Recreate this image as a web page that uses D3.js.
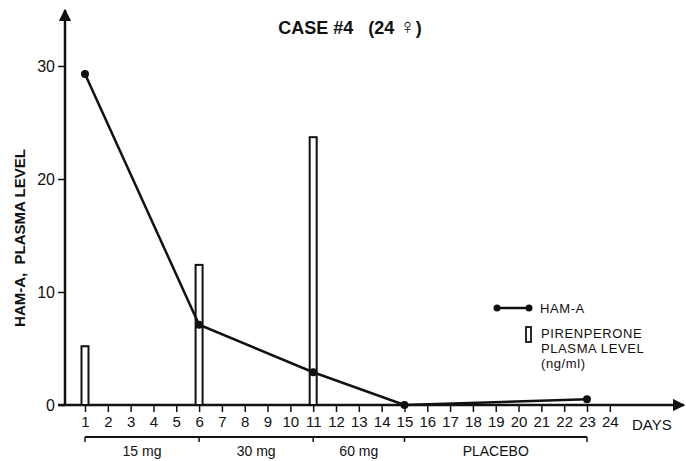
<!DOCTYPE html>
<html>
<head>
<meta charset="utf-8">
<script src="https://cdn.jsdelivr.net/npm/d3@7"></script>
<style>
  body { margin: 0; background: #fff; }
  text { font-family: "Liberation Sans", Arial, sans-serif; fill: #111; }
</style>
</head>
<body>
<div id="chart"></div>
<script>
(function(){
    // HAM-A scores by day
    const hamDays = [1, 6, 11, 15, 23];
    const hamValues = [29.3, 7.1, 2.9, 0, 0.5];

    // pirenperone plasma level (ng/ml) by day
    const plasmaDays = [1, 6, 11];
    const plasmaValues = [5.2, 12.4, 23.7];

    const dayTicks = d3.range(1, 25);
    const yTicks = [0, 10, 20, 30];

    // dose periods: [start day, end day, label]
    const doseStarts = [1, 6, 11, 15];
    const doseEnds = [6, 11, 15, 23];
    const doseLabels = ["15 mg", "30 mg", "60 mg", "PLACEBO"];

    const width = 686, height = 461;

    const svg = d3.select("#chart").append("svg")
        .attr("width", width)
        .attr("height", height);

    const x = d3.scaleLinear().domain([1, 23]).range([85, 587]);
    const y = d3.scaleLinear().domain([0, 30]).range([405, 66]);

    // title
    const title = svg.append("text")
        .attr("x", 350).attr("y", 34)
        .attr("text-anchor", "middle")
        .style("font-size", "18px")
        .style("font-weight", "bold")
        .attr("xml:space", "preserve");
    title.append("tspan").text("CASE #4   (24 ");
    title.append("tspan").style("font-size", "22px").text("\u2640");
    title.append("tspan").text(")");

    // y axis line with arrow
    svg.append("defs").append("marker")
        .attr("id", "arrow")
        .attr("viewBox", "0 0 10 10")
        .attr("refX", 9).attr("refY", 5)
        .attr("markerWidth", 5).attr("markerHeight", 5)
        .attr("orient", "auto")
        .append("path").attr("d", "M0,0L10,5L0,10Z").attr("fill", "#111");

    svg.append("line")
        .attr("x1", 65).attr("y1", y(0) + 1)
        .attr("x2", 65).attr("y2", 10)
        .attr("stroke", "#111").attr("stroke-width", 2.5)
        .attr("marker-end", "url(#arrow)");

    svg.append("line")
        .attr("x1", 58).attr("y1", y(0))
        .attr("x2", 684).attr("y2", y(0))
        .attr("stroke", "#111").attr("stroke-width", 2.5)
        .attr("marker-end", "url(#arrow)");

    // y axis ticks
    const yAxis = d3.axisLeft(y).tickValues(yTicks).tickSize(7).tickPadding(3);
    const gy = svg.append("g").attr("transform", "translate(65,0)").call(yAxis);
    gy.select(".domain").remove();
    gy.selectAll("line").attr("stroke", "#111").attr("stroke-width", 1.5);
    gy.selectAll("text").style("font-size", "16px").attr("font-family", null);

    // x axis ticks, below the axis line
    const xAxis = d3.axisBottom(x).tickValues(dayTicks).tickSize(6).tickPadding(4);
    const gx = svg.append("g").attr("transform", "translate(0," + (y(0) + 1) + ")").call(xAxis);
    gx.select(".domain").remove();
    gx.selectAll("line").attr("stroke", "#111").attr("stroke-width", 1.5);
    gx.selectAll("text").style("font-size", "15px").attr("font-family", null);

    svg.append("text")
        .attr("x", 632).attr("y", 430)
        .style("font-size", "15px")
        .text("DAYS");

    // y axis label
    svg.append("text")
        .attr("transform", "translate(25,238) rotate(-90)")
        .attr("text-anchor", "middle")
        .attr("xml:space", "preserve")
        .style("font-size", "15px")
        .style("font-weight", "bold")
        .text("HAM-A,  PLASMA LEVEL");

    // dose bracket
    const bracketY = 437;
    svg.append("line")
        .attr("x1", x(1)).attr("x2", x(23))
        .attr("y1", bracketY).attr("y2", bracketY)
        .attr("stroke", "#111").attr("stroke-width", 2);
    const bracketTicks = [1, 6, 11, 15, 23];
    svg.selectAll(".btick").data(bracketTicks).enter().append("line")
        .attr("class", "btick")
        .attr("x1", d => x(d)).attr("x2", d => x(d))
        .attr("y1", bracketY).attr("y2", bracketY + 5)
        .attr("stroke", "#111").attr("stroke-width", 1.5);
    svg.selectAll(".dose").data(doseLabels).enter().append("text")
        .attr("class", "dose")
        .attr("x", (d, i) => (x(doseStarts[i]) + x(doseEnds[i])) / 2)
        .attr("y", 456)
        .attr("text-anchor", "middle")
        .style("font-size", "14px")
        .text(d => d);

    // plasma bars
    const barW = 7;
    svg.selectAll(".bar").data(plasmaValues).enter().append("rect")
        .attr("class", "bar")
        .attr("x", (d, i) => x(plasmaDays[i]) - barW / 2)
        .attr("y", d => y(d))
        .attr("width", barW)
        .attr("height", d => y(0) - y(d))
        .attr("fill", "#fff")
        .attr("stroke", "#111").attr("stroke-width", 2);

    // HAM-A line
    const line = d3.line()
        .x((d, i) => x(hamDays[i]))
        .y(d => y(d));
    svg.append("path")
        .datum(hamValues)
        .attr("d", line)
        .attr("fill", "none")
        .attr("stroke", "#111").attr("stroke-width", 2.5);
    svg.selectAll(".dot").data(hamValues).enter().append("circle")
        .attr("class", "dot")
        .attr("cx", (d, i) => x(hamDays[i]))
        .attr("cy", d => y(d))
        .attr("r", 4)
        .attr("fill", "#111");

    // legend
    const lg = svg.append("g").style("font-size", "13px").style("letter-spacing", "0.6px");
    lg.append("line")
        .attr("x1", 497).attr("x2", 529).attr("y1", 308).attr("y2", 308)
        .attr("stroke", "#111").attr("stroke-width", 2.5);
    lg.selectAll("circle").data([497, 529]).enter().append("circle")
        .attr("cx", d => d).attr("cy", 308).attr("r", 3.5).attr("fill", "#111");
    lg.append("text").attr("x", 540).attr("y", 313).text("HAM-A");
    lg.append("rect")
        .attr("x", 526).attr("y", 327).attr("width", 5).attr("height", 15)
        .attr("fill", "#fff").attr("stroke", "#111").attr("stroke-width", 1.8);
    lg.append("text").attr("x", 541).attr("y", 338).text("PIRENPERONE");
    lg.append("text").attr("x", 541).attr("y", 353).text("PLASMA LEVEL");
    lg.append("text").attr("x", 541).attr("y", 368).text("(ng/ml)");
})();
</script>
</body>
</html>
